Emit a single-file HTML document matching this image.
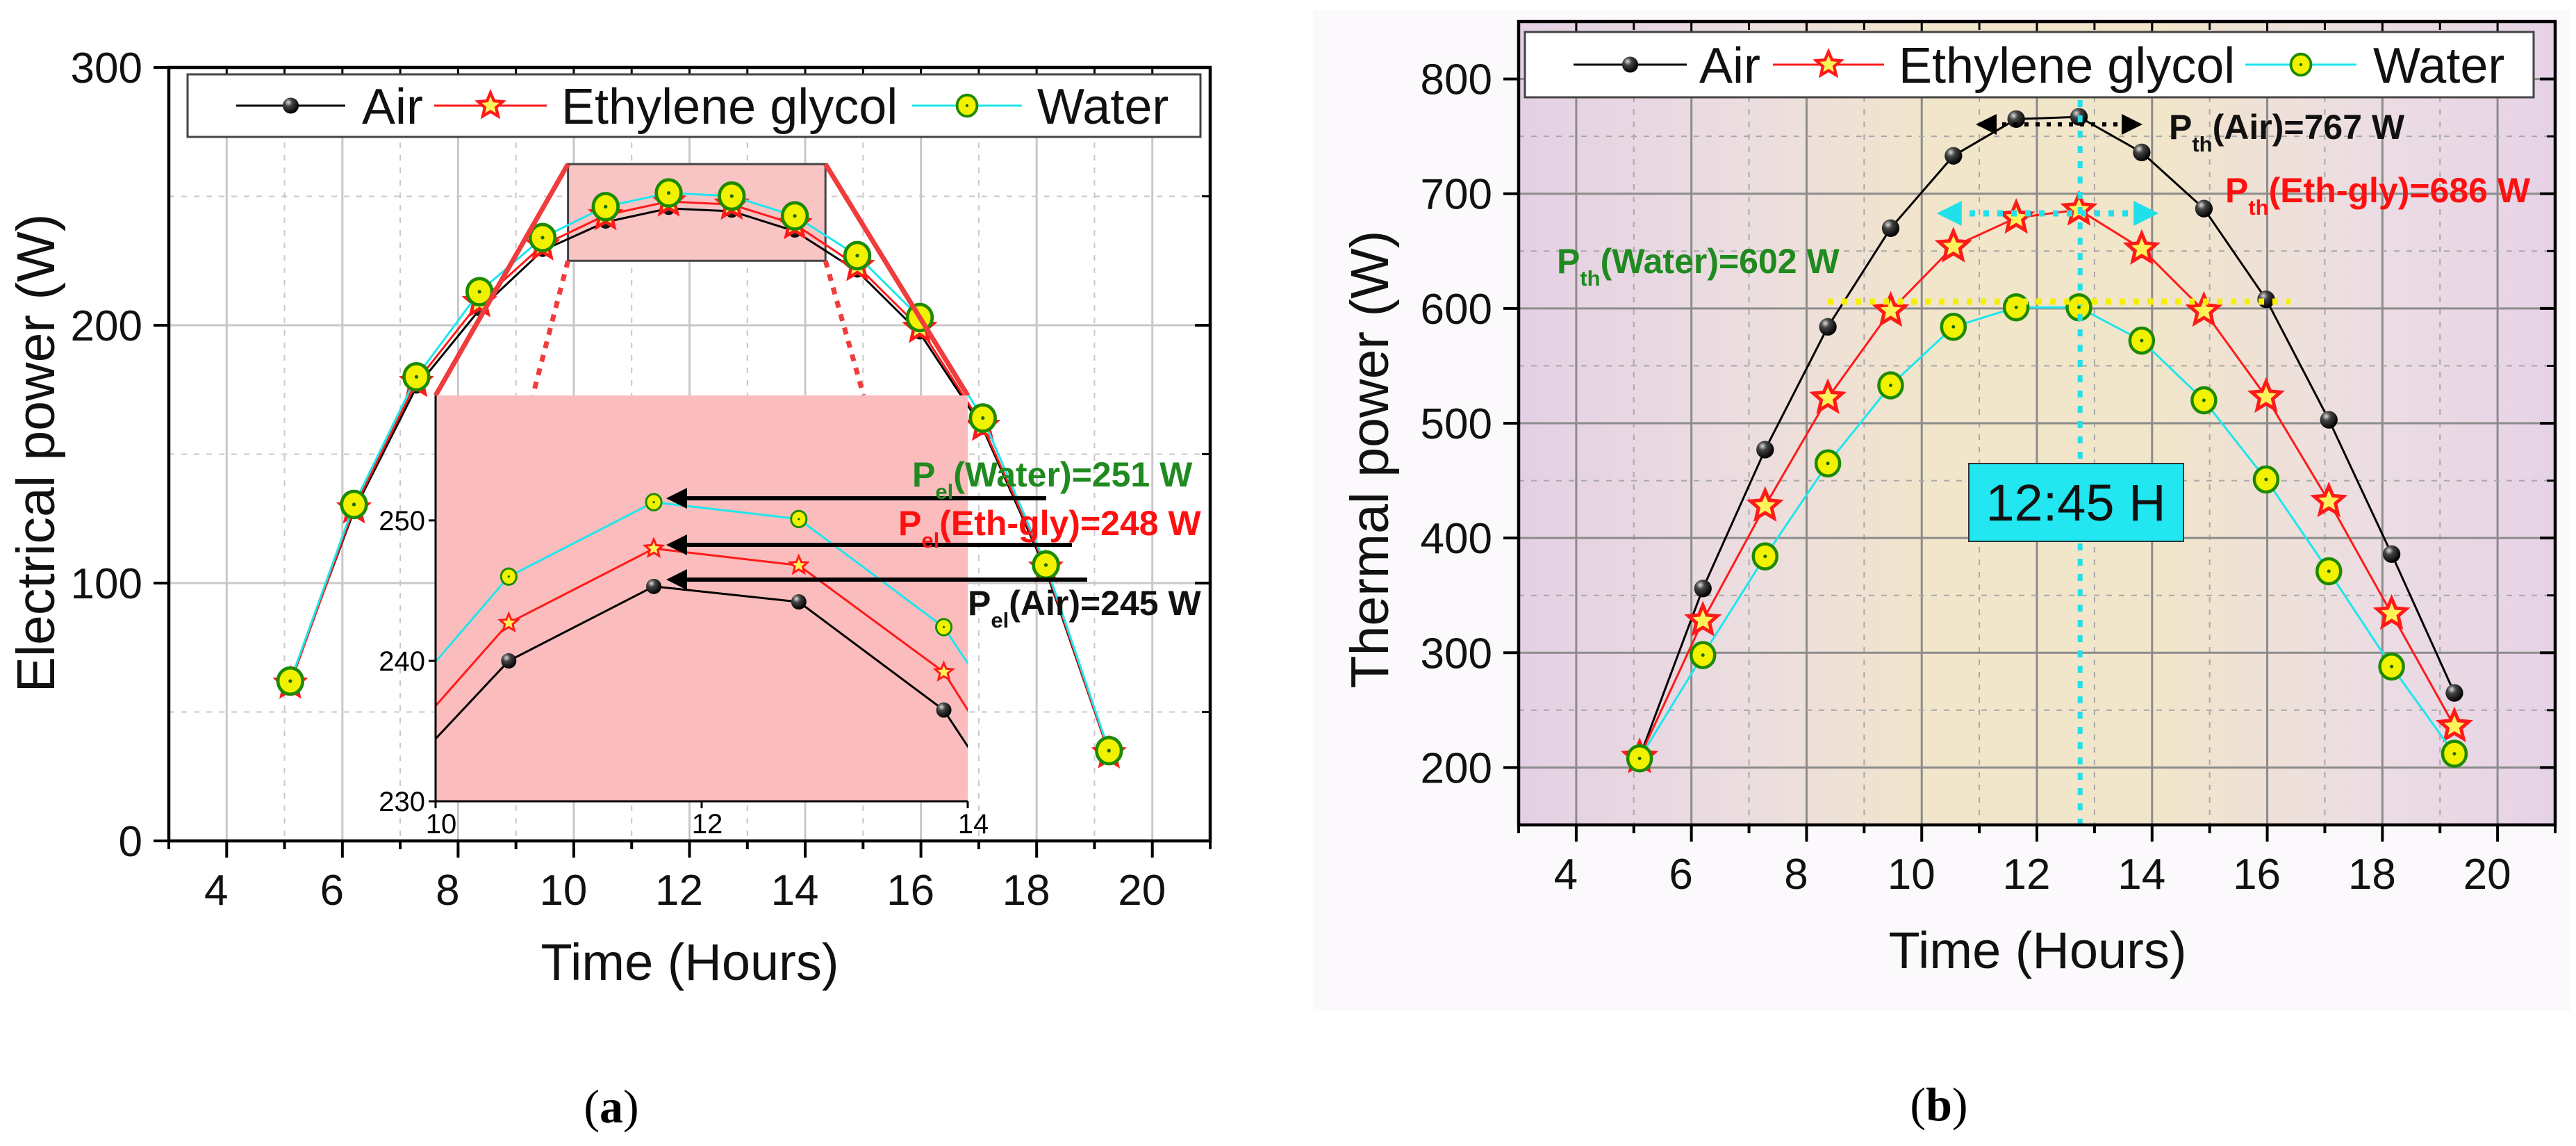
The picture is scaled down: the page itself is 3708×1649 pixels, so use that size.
<!DOCTYPE html>
<html><head><meta charset="utf-8"><style>
html,body{margin:0;padding:0;background:#fff;width:3708px;height:1649px;overflow:hidden}
svg{display:block}
text{font-family:"Liberation Sans",Arial,sans-serif}
</style></head><body>
<svg id="svg" width="3708" height="1649" viewBox="0 0 3708 1649" xmlns="http://www.w3.org/2000/svg">
<defs>
<radialGradient id="ball" cx="0.35" cy="0.3" r="0.7"><stop offset="0" stop-color="#ddd"/><stop offset="0.35" stop-color="#444"/><stop offset="1" stop-color="#000"/></radialGradient>
<linearGradient id="bgB" x1="0" x2="1" y1="0" y2="0">
<stop offset="0" stop-color="#e4d0e4"/><stop offset="0.22" stop-color="#ecdde0"/><stop offset="0.4" stop-color="#f1e5ca"/><stop offset="0.62" stop-color="#f1e5ca"/><stop offset="0.82" stop-color="#ecdde3"/><stop offset="1" stop-color="#e6d2e6"/></linearGradient>
<clipPath id="insetClip"><rect x="627" y="569" width="766" height="584"/></clipPath>
<marker id="ah" viewBox="0 0 10 10" refX="8" refY="5" markerWidth="5" markerHeight="5" orient="auto-start-reverse"><path d="M0,0 L10,5 L0,10 z" fill="#000"/></marker>
<marker id="ahc" viewBox="0 0 10 10" refX="8" refY="5" markerWidth="4" markerHeight="4" orient="auto-start-reverse"><path d="M0,0 L10,5 L0,10 z" fill="#22e0ea"/></marker>
</defs>
<g id="chartA"></g>
<g id="chartB"></g>
<text x="880" y="1615" font-size="68" text-anchor="middle" style="font-family:'Liberation Serif',serif">(<tspan font-weight="bold">a</tspan>)</text>
<text x="2791" y="1612" font-size="68" text-anchor="middle" style="font-family:'Liberation Serif',serif">(<tspan font-weight="bold">b</tspan>)</text>
</svg>
<script>
const hours = [5.1,6.2,7.28,8.37,9.46,10.55,11.64,12.73,13.82,14.9,15.98,17.07,18.16,19.25];
const elAir = [62,128,176,206,229,240,245.3,244.2,236.5,221,197,160,105,34];
const elEG = [61,129,178,209,231,242.7,248,246.8,239.2,223,199,161,106,34];
const elWater = [62,130.5,180,213,234,246,251.3,250.1,242.4,227,203,164,107,35];
const thAir = [209,356,477,584,670,733,765,767,736,687,608,503,386,265];
const thEG = [209,328,428,522,598,654,679,686,652,598,523,432,334,236];
const thWater = [208,298,384,465,533,584,601,601,572,520,451,371,288,212];
const xTicks = [4,6,8,10,12,14,16,18,20];
const elTicks = [0,100,200,300];
const thTicks = [200,300,400,500,600,700,800];
const insetXTicks = [10,12,14];
const insetYTicks = [230,240,250];

const NS="http://www.w3.org/2000/svg";
function mk(parent,tag,attrs){const e=document.createElementNS(NS,tag);for(const k in attrs)e.setAttribute(k,attrs[k]);parent.appendChild(e);return e;}
function star(cx,cy,R,r){let p=[];for(let i=0;i<10;i++){const a=-Math.PI/2+i*Math.PI/5;const rr=i%2?r:R;p.push((cx+rr*Math.cos(a)).toFixed(1)+','+(cy+rr*Math.sin(a)).toFixed(1));}return p.join(' ');}

function drawMarker(g,type,x,y,s){
  let m;
  if(type==='air'){m=mk(g,'circle',{cx:x,cy:y,r:11*s,fill:'url(#ball)'});}
  else if(type==='eg'){m=mk(g,'polygon',{points:star(x,y,22*s,10*s),fill:'#fff35a',stroke:'#ff1a1a','stroke-width':5*s,'stroke-linejoin':'miter'});}
  else {m=mk(g,'g',{});mk(m,'ellipse',{cx:x,cy:y,rx:17*s,ry:18*s,fill:'#f2f200',stroke:'#1d8a00','stroke-width':4.5*s});mk(m,'circle',{cx:x,cy:y,r:2.5*s,fill:'#1d6a00'});}
  return m;
}
const styles={air:'#000',eg:'#ff1a1a',water:'#1ee6ee'};

function series(g,xs,ys,sx,sy,type,s,name){
  const sg=mk(g,'g',{});
  
  
  const d=xs.map((x,i)=>(i?'L':'M')+sx(x).toFixed(1)+','+sy(ys[i]).toFixed(1)).join(' ');
  const ln=mk(sg,'path',{d:d,fill:'none',stroke:styles[type],'stroke-width':3});
  
  
  xs.forEach((x,i)=>{const m=drawMarker(sg,type,sx(x),sy(ys[i]),s);
    
    });
  return sg;
}

function axes(g,L,R,T,B,sx,sy,yTicks,yMinor,gridMaj,gridMin){
  for(let v=3;v<=21;v++){const x=sx(v);if(x<=L+2||x>=R-2)continue;
    const major=v%2===0;
    const l=mk(g,'line',{x1:x,x2:x,y1:T,y2:B,stroke:major?gridMaj:gridMin,'stroke-width':major?3:2,'stroke-dasharray':major?'':'8,10'});
    }
  yMinor.forEach(v=>{const y=sy(v);const l=mk(g,'line',{x1:L,x2:R,y1:y,y2:y,stroke:gridMin,'stroke-width':2,'stroke-dasharray':'8,10'});
    });
  yTicks.forEach(v=>{const y=sy(v);if(y<=T+2||y>=B-2)return;const l=mk(g,'line',{x1:L,x2:R,y1:y,y2:y,stroke:gridMaj,'stroke-width':3});
    });
}
function frame(g,L,R,T,B,sx,sy,yTicks,yMinor){
  const fr=mk(g,'rect',{x:L,y:T,width:R-L,height:B-T,fill:'none',stroke:'#000','stroke-width':4.5});
  
  for(let v=3;v<=21;v++){const x=sx(v);const len=v%2===0?24:12;
    mk(g,'line',{x1:x,x2:x,y1:B,y2:B+len,stroke:'#000','stroke-width':4});
    mk(g,'line',{x1:x,x2:x,y1:T,y2:T+len,stroke:'#000','stroke-width':3});}
  yTicks.forEach(v=>{const y=sy(v);mk(g,'line',{x1:L-22,x2:L,y1:y,y2:y,stroke:'#000','stroke-width':4});mk(g,'line',{x1:R-22,x2:R,y1:y,y2:y,stroke:'#000','stroke-width':4});});
  yMinor.forEach(v=>{const y=sy(v);mk(g,'line',{x1:R-12,x2:R,y1:y,y2:y,stroke:'#000','stroke-width':3});});
  xTicks.forEach(v=>{const t=mk(g,'text',{x:sx(v)-15,y:B+92,'font-size':62,'text-anchor':'middle',fill:'#111'});t.textContent=v;
    });
  yTicks.forEach(v=>{const t=mk(g,'text',{x:L-38,y:sy(v)+22,'font-size':62,'text-anchor':'end',fill:'#111'});t.textContent=v;
    });
}
function legend(g,x,y,w,h,items){
  const lg=mk(g,'g',{});
  
  mk(lg,'rect',{x:x,y:y,width:w,height:h,fill:'#fff',stroke:'#444','stroke-width':3});
  items.forEach(it=>{const e=mk(lg,'g',{});
    
    mk(e,'line',{x1:it.l1,x2:it.l2,y1:y+h/2,y2:y+h/2,stroke:styles[it.type],'stroke-width':3});
    drawMarker(e,it.type,(it.l1+it.l2)/2,y+h/2,it.type==='air'?1.05:0.85);
    const t=mk(e,'text',{x:it.tx,y:y+h/2+26,'font-size':72,fill:'#111'});t.textContent=it.label;});
}
function annot(g,x,y,sub,rest,color,name,size){
  const t=mk(g,'text',{x:x,y:y,'font-size':size||50,'font-weight':'bold',fill:color});
  
  const a=mk(t,'tspan',{});a.textContent='P';
  const b=mk(t,'tspan',{dy:18,'font-size':(size||50)*0.62});b.textContent=sub;
  const c=mk(t,'tspan',{dy:-18});c.textContent=rest;
}

// ===== Chart A =====
(function(){
  const g=document.getElementById('chartA');
  const L=243,R=1742,T=97,B=1210;
  const sx=v=>L+(v-3)*(R-L)/18, sy=v=>B-(v-0)*(B-T)/300;
  mk(g,'rect',{x:L,y:T,width:R-L,height:B-T,fill:'#fff'});
  axes(g,L,R,T,B,sx,sy,elTicks,[50,150,250],'#c8c8c8','#c8c8c8');
  const zx1=sx(9.9),zx2=sx(14.35),zy1=sy(262.5),zy2=sy(225);
  const zr=mk(g,'rect',{x:zx1,y:zy1,width:zx2-zx1,height:zy2-zy1,fill:'#f8c4c4',stroke:'#444','stroke-width':3});
  
  series(g,hours,elAir,sx,sy,'air',0.85,'air-series');
  series(g,hours,elEG,sx,sy,'eg',0.95,'ethylene-glycol-series');
  series(g,hours,elWater,sx,sy,'water',1.05,'water-series');
  const iL=627,iR=1393,iT=569,iB=1153;
  const ix=v=>iL+(v-10)*(iR-iL)/4, iy=v=>iB-(v-230)*(iB-iT)/28.9;
  mk(g,'line',{x1:zx1,y1:zy1,x2:iL,y2:iT,stroke:'#f03c3c','stroke-width':7});
  mk(g,'line',{x1:zx2,y1:zy1,x2:iR,y2:iT,stroke:'#f03c3c','stroke-width':7});
  mk(g,'line',{x1:zx1,y1:zy2,x2:767,y2:iT,stroke:'#f03c3c','stroke-width':7,'stroke-dasharray':'10,10'});
  mk(g,'line',{x1:zx2,y1:zy2,x2:1243,y2:iT,stroke:'#f03c3c','stroke-width':7,'stroke-dasharray':'10,10'});
  const ig=mk(g,'g',{});
  
  mk(ig,'rect',{x:iL,y:iT,width:iR-iL,height:iB-iT,fill:'#fabcbc'});
  const cg=mk(ig,'g',{'clip-path':'url(#insetClip)'});
  series(cg,hours,elAir,ix,iy,'air',1.0,'inset-air-series');
  series(cg,hours,elEG,ix,iy,'eg',0.6,'inset-eg-series');
  series(cg,hours,elWater,ix,iy,'water',0.65,'inset-water-series');
  mk(ig,'line',{x1:iL,x2:iL,y1:iT,y2:iB,stroke:'#000','stroke-width':3});
  mk(ig,'line',{x1:iL,x2:iR,y1:iB,y2:iB,stroke:'#000','stroke-width':3});
  insetYTicks.forEach(v=>{mk(ig,'line',{x1:iL-10,x2:iL,y1:iy(v),y2:iy(v),stroke:'#000','stroke-width':3});
    const t=mk(ig,'text',{x:iL-15,y:iy(v)+14,'font-size':40,'text-anchor':'end'});t.textContent=v;
    });
  insetXTicks.forEach(v=>{mk(ig,'line',{x1:ix(v),x2:ix(v),y1:iB,y2:iB+10,stroke:'#000','stroke-width':3});
    const t=mk(ig,'text',{x:ix(v)+8,y:iB+46,'font-size':40,'text-anchor':'middle'});t.textContent=v;
    });
  [[717,1506],[784,1543],[834,1565]].forEach(a=>{const l=mk(g,'line',{x1:a[1],y1:a[0],x2:965,y2:a[0],stroke:'#000','stroke-width':6,'marker-end':'url(#ah)'});
    });
  annot(g,1313,700,'el','(Water)=251 W','#1f8a1f','water-peak-label');
  annot(g,1293,770,'el','(Eth-gly)=248 W','#ff1010','eg-peak-label');
  annot(g,1393,885,'el','(Air)=245 W','#111','air-peak-label');
  frame(g,L,R,T,B,sx,sy,elTicks,[50,150,250]);
  legend(g,270,107,1458,90,[{type:'air',l1:340,l2:497,tx:521,label:'Air'},{type:'eg',l1:625,l2:787,tx:808,label:'Ethylene glycol'},{type:'water',l1:1313,l2:1471,tx:1493,label:'Water'}]);
  const yt=mk(g,'text',{x:0,y:0,'font-size':77,'text-anchor':'middle',transform:'translate(78,652) rotate(-90)',fill:'#111'});yt.textContent='Electrical power (W)';
  
  const xt=mk(g,'text',{x:993,y:1410,'font-size':74,'text-anchor':'middle',fill:'#111'});xt.textContent='Time (Hours)';
  
})();

// ===== Chart B =====
(function(){
  const g=document.getElementById('chartB');
  mk(g,'rect',{x:1890,y:15,width:1810,height:1440,fill:'#fcf9fc'});
  const L=2186,R=3678,T=31,B=1187;
  const sx=v=>L+(v-3)*(R-L)/18, sy=v=>B-(v-150)*(B-T)/700;
  mk(g,'rect',{x:L,y:T,width:R-L,height:B-T,fill:'url(#bgB)'});
  axes(g,L,R,T,B,sx,sy,thTicks,[250,350,450,550,650,750],'#8c8c8c','#a8a8a8');
  series(g,hours,thAir,sx,sy,'air',1.15,'air-series');
  series(g,hours,thEG,sx,sy,'eg',1.0,'ethylene-glycol-series');
  series(g,hours,thWater,sx,sy,'water',1.0,'water-series');
  const vx=sx(12.75);
  const vl=mk(g,'line',{x1:vx,x2:vx,y1:144,y2:1198,stroke:'#22e0ea','stroke-width':7,'stroke-dasharray':'10,12'});
  
  const a1=mk(g,'line',{x1:2850,x2:3078,y1:179,y2:179,stroke:'#000','stroke-width':6,'stroke-dasharray':'6,10','marker-start':'url(#ah)','marker-end':'url(#ah)'});
  
  const a2=mk(g,'line',{x1:2795,x2:3100,y1:307,y2:307,stroke:'#22e0ea','stroke-width':9,'stroke-dasharray':'8,12','marker-start':'url(#ahc)','marker-end':'url(#ahc)'});
  
  const a3=mk(g,'line',{x1:2631,x2:3297,y1:434,y2:434,stroke:'#f5f000','stroke-width':9,'stroke-dasharray':'8,12'});
  
  const bx=mk(g,'rect',{x:2834,y:667,width:309,height:112,fill:'#22e6f0',stroke:'#333','stroke-width':2});
  
  const bt=mk(g,'text',{x:2988,y:749,'font-size':74,'text-anchor':'middle',fill:'#111'});bt.textContent='12:45 H';
  
  annot(g,3122,200,'th','(Air)=767 W','#111','air-peak-label');
  annot(g,3203,291,'th','(Eth-gly)=686 W','#ff1010','eg-peak-label');
  annot(g,2241,393,'th','(Water)=602 W','#1f8a1f','water-peak-label');
  frame(g,L,R,T,B,sx,sy,thTicks,[250,350,450,550,650,750]);
  legend(g,2195,46,1452,94,[{type:'air',l1:2265,l2:2428,tx:2446,label:'Air'},{type:'eg',l1:2552,l2:2712,tx:2733,label:'Ethylene glycol'},{type:'water',l1:3232,l2:3392,tx:3416,label:'Water'}]);
  const yt=mk(g,'text',{x:0,y:0,'font-size':77,'text-anchor':'middle',transform:'translate(1998,661) rotate(-90)',fill:'#111'});yt.textContent='Thermal power (W)';
  
  const xt=mk(g,'text',{x:2933,y:1393,'font-size':74,'text-anchor':'middle',fill:'#111'});xt.textContent='Time (Hours)';
  
})();
</script>
</body></html>
